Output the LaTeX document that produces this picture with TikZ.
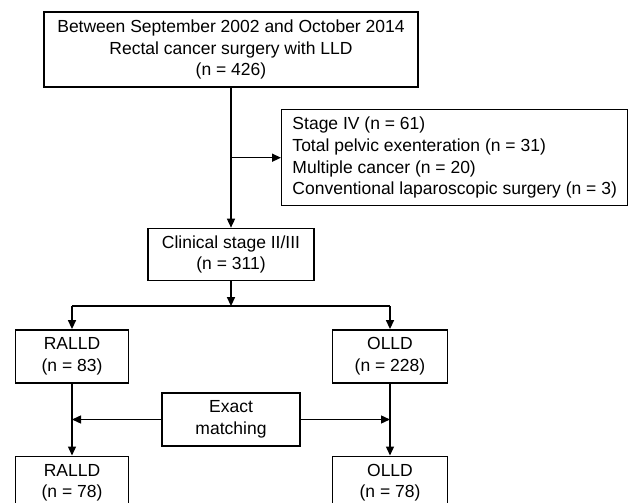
\documentclass[tikz,border=0pt]{standalone}
\usepackage{fontspec}
\setmainfont{Liberation Sans}
\usetikzlibrary{arrows.meta,positioning,calc}

\begin{document}
\begin{tikzpicture}[
  x=1pt, y=1pt,
  font=\fontsize{17.5}{21.8}\selectfont,
  box/.style={draw, line width=1.4pt, align=center, inner sep=4pt},
  arr/.style={-{Triangle[length=9pt,width=8pt]}, line width=1.4pt},
  lin/.style={line width=1.4pt}
]
\useasboundingbox (0,0) rectangle (633,-503);
\node[box, minimum width=374pt, minimum height=75pt] (src) at (231,-49.5)
  {Between September 2002 and October 2014\\Rectal cancer surgery with LLD\\(n = 426)};
\node[box, minimum width=166pt, minimum height=52pt, below=140pt of src] (clin)
  {Clinical stage II/III\\(n = 311)};
\coordinate (j) at ($(src.south)!0.5!(clin.north)$);
\node[box, align=left, minimum width=346pt, minimum height=96pt, right=50pt of j] (excl)
  {Stage IV (n = 61)\\Total pelvic exenteration (n = 31)\\Multiple cancer (n = 20)\\Conventional laparoscopic surgery (n = 3)};
\draw[arr] (src.south) -- (clin.north);
\draw[arr] (j) -- (excl.west);
% split into the two groups
\coordinate[below=25pt of clin] (fork);
\coordinate (fl) at ($(fork)+(-159,0)$);
\coordinate (fr) at ($(fork)+(159,0)$);
\node[box, minimum width=113pt, minimum height=53pt, below=23pt of fl] (ral)
  {RALLD\\(n = 83)};
\node[box, minimum width=115pt, minimum height=53pt, below=23pt of fr] (oll)
  {OLLD\\(n = 228)};
\node[box, minimum width=113pt, minimum height=53pt, below=72pt of ral] (ralm)
  {RALLD\\(n = 78)};
\node[box, minimum width=115pt, minimum height=53pt, below=72pt of oll] (ollm)
  {OLLD\\(n = 78)};
\coordinate (mid) at ($(ral.south)!0.5!(ralm.north)$);
\node[box, minimum width=138pt, minimum height=53pt] (exact) at (mid -| clin)
  {Exact\\matching};
\draw[arr] (clin.south) -- (fork);
\draw[lin] (fl) -- (fr);
\draw[arr] (fl) -- (ral.north);
\draw[arr] (fr) -- (oll.north);
\draw[arr] (ral.south) -- (ralm.north);
\draw[arr] (oll.south) -- (ollm.north);
\draw[arr] (exact.west) -- (exact.west -| ral.south);
\draw[arr] (exact.east) -- (exact.east -| oll.south);
\end{tikzpicture}
\end{document}
